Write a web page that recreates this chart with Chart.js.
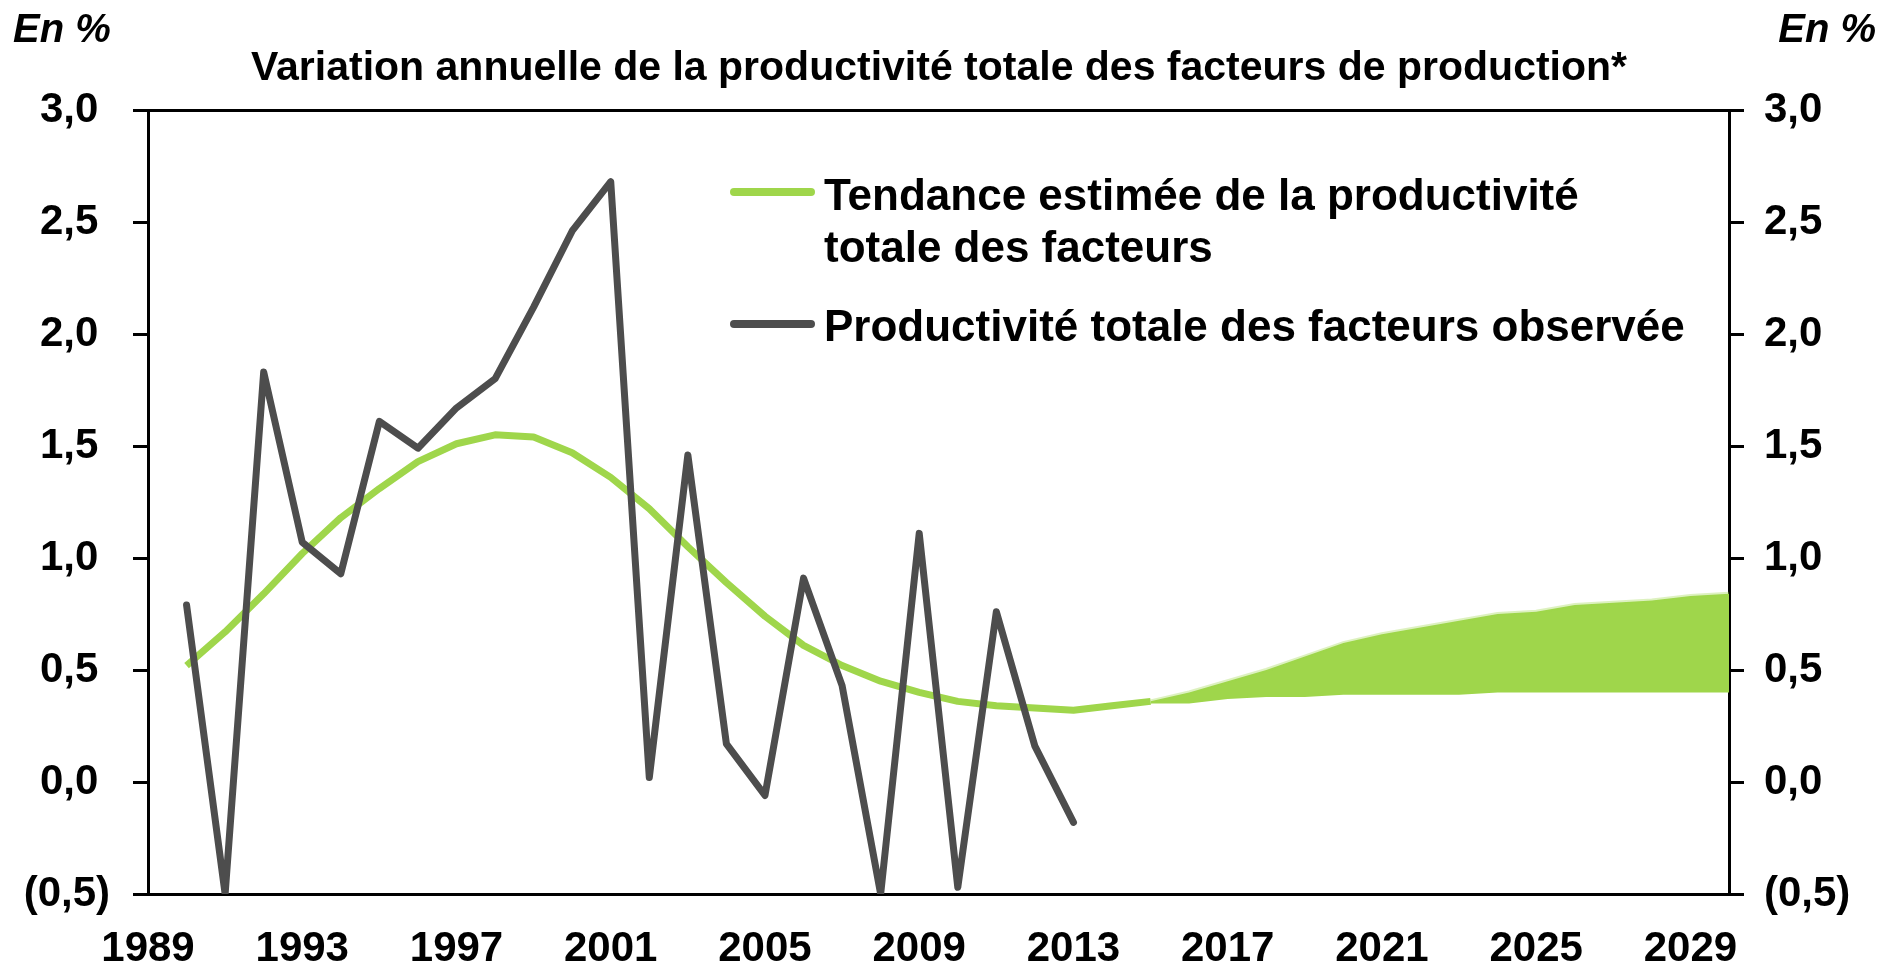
<!DOCTYPE html>
<html>
<head>
<meta charset="utf-8">
<script src="https://cdn.jsdelivr.net/npm/chart.js@4"></script>
<style>
  body { margin: 0; background: #fff; }
  #wrap { width: 1904px; height: 968px; }
</style>
</head>
<body>
<div id="wrap"><canvas id="tpfChart" width="1904" height="968"></canvas></div>
<script>
// observed TFP growth (grey line)
var obsYears = [1990, 1991, 1992, 1993, 1994, 1995, 1996, 1997, 1998, 1999, 2000, 2001,
                2002, 2003, 2004, 2005, 2006, 2007, 2008, 2009, 2010, 2011, 2012, 2013];
var observed = [0.79, -0.5, 1.83, 1.07, 0.93, 1.61, 1.49, 1.67, 1.80, 2.12, 2.46, 2.68,
                0.02, 1.46, 0.17, -0.06, 0.91, 0.43, -0.5, 1.11, -0.47, 0.76, 0.16, -0.18];

// estimated trend (green line)
var trendYears = [1990, 1991, 1992, 1993, 1994, 1995, 1996, 1997, 1998, 1999, 2000, 2001, 2002,
                  2003, 2004, 2005, 2006, 2007, 2008, 2009, 2010, 2011, 2012, 2013, 2014, 2015];
var trend = [0.52, 0.67, 0.84, 1.02, 1.18, 1.31, 1.43, 1.51, 1.55, 1.54, 1.47, 1.36, 1.22,
             1.05, 0.89, 0.74, 0.61, 0.52, 0.45, 0.40, 0.36, 0.34, 0.33, 0.32, 0.34, 0.36];

// projection band
var bandYears = [2015, 2016, 2017, 2018, 2019, 2020, 2021, 2022, 2023, 2024, 2025, 2026, 2027, 2028, 2029, 2030];
var bandHigh = [0.36, 0.40, 0.45, 0.50, 0.56, 0.62, 0.66, 0.69, 0.72, 0.75, 0.76, 0.79, 0.80, 0.81, 0.83, 0.84];
var bandLow = [0.35, 0.35, 0.37, 0.38, 0.38, 0.39, 0.39, 0.39, 0.39, 0.40, 0.40, 0.40, 0.40, 0.40, 0.40, 0.40];

var xTickYears = [1989, 1993, 1997, 2001, 2005, 2009, 2013, 2017, 2021, 2025, 2029];
var yTickValues = [-0.5, 0, 0.5, 1, 1.5, 2, 2.5, 3];

var GREEN = '#9fd64b';
var GREY = '#4d4d4d';
var FONT = '"Liberation Sans", Arial, sans-serif';

function pts(xs, ys) {
    return xs.map(function(x, i) { return { x: x, y: ys[i] }; });
}

function fmt(v, trailing) {
    var s = Math.abs(v).toFixed(1).replace('.', ',');
    if (v < 0) return '(' + s + ')';
    return trailing ? s + ' ' : s;
}

var overlay = {
    id: 'overlay',
    afterDraw: function(chart) {
        var c = chart.ctx;
        c.save();
        c.fillStyle = '#000';
        c.textBaseline = 'alphabetic';

        c.font = 'italic bold 40px ' + FONT;
        c.textAlign = 'left';
        c.fillText('En %', 13, 42);
        c.textAlign = 'right';
        c.fillText('En %', 1876, 42);

        c.font = 'bold 41px ' + FONT;
        c.textAlign = 'center';
        c.fillText('Variation annuelle de la productivité totale des facteurs de production*', 939, 80);

        // legend
        c.lineCap = 'round';
        c.lineWidth = 8;
        c.strokeStyle = GREEN;
        c.beginPath(); c.moveTo(734, 192); c.lineTo(811, 192); c.stroke();
        c.strokeStyle = GREY;
        c.beginPath(); c.moveTo(734, 324); c.lineTo(811, 324); c.stroke();

        c.font = 'bold 44px ' + FONT;
        c.textAlign = 'left';
        c.fillText('Tendance estimée de la productivité', 824, 210);
        c.fillText('totale des facteurs', 824, 262);
        c.fillText('Productivité totale des facteurs observée', 824, 341);
        c.restore();
    }
};

document.addEventListener('DOMContentLoaded', function() {
    var ctx = document.getElementById('tpfChart');
    Chart.defaults.font.family = FONT;
    Chart.defaults.color = '#000';

    new Chart(ctx, {
        type: 'line',
        data: {
            datasets: [{
                label: 'Productivité totale des facteurs observée',
                data: pts(obsYears, observed),
                borderColor: GREY,
                borderWidth: 7,
                borderJoinStyle: 'round',
                borderCapStyle: 'round',
                pointRadius: 0,
                fill: false,
                yAxisID: 'y'
            }, {
                label: 'Tendance estimée de la productivité totale des facteurs',
                data: pts(trendYears, trend),
                borderColor: GREEN,
                borderWidth: 7,
                borderJoinStyle: 'round',
                pointRadius: 0,
                fill: false,
                yAxisID: 'y'
            }, {
                label: 'haut',
                data: pts(bandYears, bandHigh),
                borderColor: 'rgba(159, 214, 75, 0.35)',
                borderWidth: 4,
                backgroundColor: GREEN,
                pointRadius: 0,
                fill: '+1',
                yAxisID: 'y'
            }, {
                label: 'bas',
                data: pts(bandYears, bandLow),
                borderWidth: 0,
                borderColor: 'rgba(0,0,0,0)',
                pointRadius: 0,
                fill: false,
                yAxisID: 'y'
            }]
        },
        options: {
            responsive: false,
            animation: false,
            layout: { padding: { top: 110, left: 0, right: 0, bottom: 0 } },
            plugins: {
                legend: { display: false },
                title: { display: false },
                tooltip: { enabled: false }
            },
            scales: {
                x: {
                    type: 'linear',
                    min: 1989,
                    max: 2030,
                    afterBuildTicks: function(scale) {
                        scale.ticks = xTickYears.map(function(v) { return { value: v }; });
                    },
                    afterFit: function(scale) { scale.height = 74; },
                    ticks: {
                        autoSkip: false,
                        maxRotation: 0,
                        padding: 30,
                        font: { size: 42, weight: 'bold' },
                        callback: function(v) { return String(v); }
                    },
                    grid: { display: false, drawTicks: false },
                    border: { display: true, color: '#000', width: 3 }
                },
                y: {
                    position: 'left',
                    min: -0.5,
                    max: 3,
                    afterBuildTicks: function(scale) {
                        scale.ticks = yTickValues.map(function(v) { return { value: v }; });
                    },
                    afterFit: function(scale) { scale.width = 148; },
                    ticks: {
                        padding: 23,
                        font: { size: 42, weight: 'bold' },
                        callback: function(v) { return fmt(v, true); }
                    },
                    grid: {
                        color: function(c) { return c.tick && c.tick.value === 3 ? '#000' : 'rgba(0,0,0,0)'; },
                        tickColor: '#000',
                        tickLength: 15,
                        lineWidth: 3
                    },
                    border: { display: true, color: '#000', width: 3 }
                },
                y2: {
                    position: 'right',
                    min: -0.5,
                    max: 3,
                    afterBuildTicks: function(scale) {
                        scale.ticks = yTickValues.map(function(v) { return { value: v }; });
                    },
                    afterFit: function(scale) { scale.width = 175; },
                    ticks: {
                        padding: 20,
                        font: { size: 42, weight: 'bold' },
                        callback: function(v) { return fmt(v, false); }
                    },
                    grid: {
                        drawOnChartArea: false,
                        color: '#000',
                        tickColor: '#000',
                        tickLength: 15,
                        lineWidth: 3
                    },
                    border: { display: true, color: '#000', width: 3 }
                }
            }
        },
        plugins: [overlay]
    });
});
</script>
</body>
</html>
